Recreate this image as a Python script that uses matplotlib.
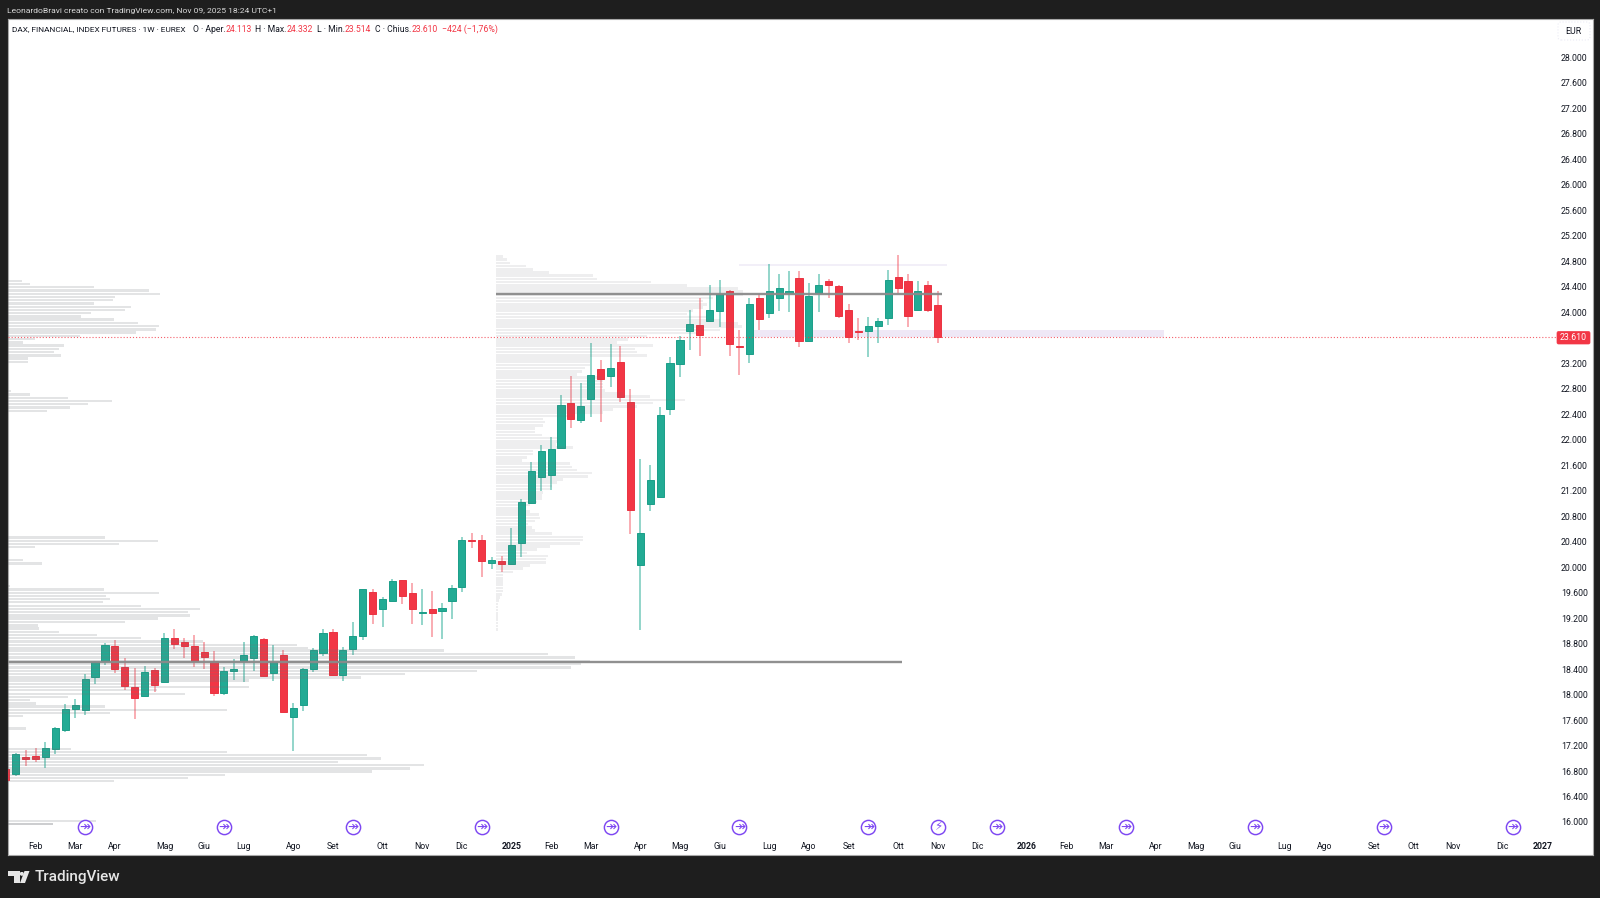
import numpy as np
import matplotlib
matplotlib.use('Agg')
import matplotlib.pyplot as plt
from matplotlib.patches import Polygon, Circle, FancyBboxPatch
from matplotlib.transforms import blended_transform_factory

plt.rcParams['font.family'] = ['Roboto', 'DejaVu Sans']

W, H = 1600, 898
BG = '#1e1e1e'
UP = '#22ab94'
DOWN = '#f23645'
TEXT = '#131722'

opens = [16825, 16746, 17024, 17034, 17013, 17149, 17447, 17767, 17756, 18269, 18525, 18755, 18436, 18112, 17981, 18379,
         18190, 18891, 18823, 18755, 18661, 18525, 18028, 18368, 18530, 18567, 18865, 18337, 18614, 17646, 17840, 18394,
         18646, 18980, 18305, 18708, 18918, 19603, 19341, 19472, 19791, 19587, 19279, 19336, 19315, 19472, 19686, 20419,
         20434, 20063, 20099, 20042, 20387, 21005, 21423, 21444, 21863, 22574, 22307, 22637, 23118, 23008, 23223, 22595,
         20031, 20994, 21109, 22485, 23186, 23704, 23798, 23861, 24018, 24332, 23474, 23343, 24222, 23987, 24222, 24306,
         24541, 23552, 24311, 24494, 24410, 24044, 23704, 23699, 23793, 23908, 24552, 24494, 24029, 24421, 24113]
highs = [16835, 17076, 17123, 17154, 17259, 17489, 17845, 17924, 18326, 18525, 18813, 18850, 18578, 18421, 18442, 18421,
         18970, 19022, 18891, 18928, 18823, 18682, 18436, 18551, 18823, 18939, 18891, 18782, 18693, 17871, 18421, 18729,
         19022, 19033, 18740, 19137, 19661, 19650, 19535, 19807, 19791, 19744, 19661, 19624, 19430, 19723, 20471, 20544,
         20497, 20167, 20183, 20622, 21062, 21643, 21910, 22046, 22710, 23008, 22883, 23516, 23244, 23495, 23469, 22804,
         21700, 21611, 22516, 23301, 23631, 24029, 24217, 24421, 24515, 24348, 23730, 24217, 24280, 24761, 24594, 24656,
         24641, 24458, 24609, 24520, 24421, 24138, 23903, 23934, 23903, 24672, 24892, 24604, 24494, 24499, 24332]
lows = [16657, 16720, 16877, 16945, 16846, 17066, 17416, 17636, 17678, 18159, 18457, 18332, 18070, 17610, 17971, 18039,
        18175, 18714, 18578, 18436, 18405, 17971, 17986, 18222, 18190, 18368, 18274, 18211, 17720, 17113, 17735, 18353,
        18604, 18290, 18211, 18614, 18860, 19101, 19059, 19467, 19415, 19101, 19090, 18902, 18865, 19190, 19608, 20293,
        19843, 19969, 19922, 20042, 20162, 20994, 21193, 21209, 21863, 22182, 22260, 22360, 22276, 22820, 22600, 20528,
        19016, 20879, 21104, 22386, 22982, 23416, 23312, 23845, 23767, 23307, 23024, 23202, 23725, 23903, 24023, 24002,
        23453, 23547, 24002, 24222, 23913, 23511, 23568, 23291, 23511, 23804, 24306, 23777, 24013, 24002, 23514]
closes = [16657, 17066, 16992, 16982, 17165, 17468, 17767, 17835, 18248, 18504, 18782, 18405, 18128, 17939, 18358, 18149,
          18881, 18792, 18755, 18530, 18583, 18028, 18368, 18405, 18614, 18923, 18285, 18515, 17730, 17782, 18405, 18698,
          18960, 18305, 18698, 18912, 19650, 19258, 19493, 19781, 19551, 19336, 19294, 19273, 19357, 19666, 20424, 20403,
          20094, 20105, 20042, 20351, 21025, 21502, 21821, 21852, 22543, 22323, 22532, 23024, 22951, 23129, 22673, 20895,
          20534, 21366, 22396, 23197, 23573, 23819, 23641, 24044, 24280, 23495, 23453, 24123, 23898, 24332, 24384, 24327,
          23542, 24254, 24431, 24421, 23950, 23610, 23694, 23788, 23866, 24510, 24374, 23940, 24332, 24029, 23610]

# volume profile rows, left block and middle block
left_row_price = [24495, 24444, 24393, 24342, 24291, 24240, 24190, 24139, 24088, 24037, 23986, 23935, 23885, 23834, 23783,
                  23732, 23681, 23630, 23580, 23529, 23478, 23427, 23376, 23325, 23275, 23224,
                  22763, 22711, 22659, 22611, 22559, 22507, 22455,
                  20466, 20414, 20367, 20315, 20111, 20058,
                  19703, 19650, 19598, 19551, 19499, 19451, 19394, 19341, 19294, 19242, 19195, 19137, 19085, 19038, 18986,
                  18939, 18886, 18834, 18781, 18734, 18692, 18635, 18582, 18530, 18478, 18426, 18373, 18326, 18269, 18221,
                  18169, 18122, 18070, 18012, 17960, 17913, 17861, 17813, 17761, 17714, 17662, 17468,
                  17149, 17097, 17050, 16998, 16945, 16898, 16841, 16794, 16741, 16694, 16642,
                  16020, 15972, 15972]
left_row_vol = [14, 22, 86, 141, 152, 107, 105, 86, 123, 117, 83, 73, 106, 130, 151,
                148, 128, 72, 27, 15, 56, 51, 46, 53, 20, 20,
                3, 22, 60, 104, 80, 62, 39,
                97, 150, 111, 27, 15, 34,
                2, 96, 151, 98, 102, 95, 133, 192, 180, 182, 150, 117, 30, 31, 51,
                89, 133, 195, 289, 300, 436, 540, 567, 582, 573, 563, 469, 397, 353, 241,
                150, 241, 149, 177, 60, 22, 28, 97, 219, 102, 15, 18,
                63, 219, 359, 373, 330, 416, 402, 364, 217, 180, 106,
                88, 45, 45]
mid_row_price = [24875, 24825, 24775, 24725, 24675, 24625, 24575, 24525, 24475, 24425, 24375, 24325, 24275, 24225, 24175,
                 24125, 24075, 24025, 23975, 23925, 23875, 23825, 23775, 23725, 23675, 23625, 23575, 23525, 23475, 23425,
                 23375, 23325, 23275, 23225, 23175, 23125, 23075, 23025, 22975, 22925, 22875, 22825, 22775, 22725, 22675,
                 22625, 22575, 22525, 22475, 22425, 22375, 22325, 22275, 22225, 22175, 22125, 22075, 22025, 21975, 21925,
                 21875, 21825, 21775, 21725, 21675, 21625, 21575, 21525, 21475, 21425, 21375, 21325, 21275, 21225, 21175,
                 21125, 21075, 21025, 20975, 20925, 20875, 20825, 20775, 20725, 20675, 20625, 20575, 20525, 20475, 20425,
                 20375, 20325, 20275, 20225, 20175, 20125, 20075, 20025, 19975, 19925, 19875, 19825, 19775, 19725, 19675,
                 19625, 19575, 19525, 19475, 19425, 19375, 19325, 19275, 19225, 19175, 19125, 19075, 19025]
mid_row_vol = [7, 11, 14, 30, 37, 53, 97, 101, 155, 191, 242, 247, 247, 217, 207, 211, 207, 197, 191, 211, 224, 242, 246,
               224, 201, 151, 132, 121, 157, 139, 141, 151, 94, 94, 94, 89, 86, 81, 106, 107, 107, 107, 109, 127, 154,
               189, 157, 141, 117, 107, 77, 47, 49, 47, 39, 39, 46, 62, 62, 60, 77, 37, 37, 31, 26, 74, 76, 81, 96, 92,
               67, 61, 56, 54, 47, 46, 46, 41, 34, 27, 34, 43, 44, 39, 32, 36, 39, 56, 87, 87, 84, 54, 41, 31, 52, 50,
               50, 34, 27, 17, 7, 7, 7, 7, 7, 7, 6, 4, 3, 2, 2, 2, 2, 2, 2, 2, 2, 2]
left_poc = 18515
mid_poc = 24290
last_price = 23610
zone_low = 23610
zone_high = 23715
zone_line = 24745

price_ticks = [28000, 27600, 27200, 26800, 26400, 26000, 25600, 25200, 24800, 24400, 24000, 23600, 23200, 22800, 22400,
               22000, 21600, 21200, 20800, 20400, 20000, 19600, 19200, 18800, 18400, 18000, 17600, 17200, 16800, 16400, 16000]
price_labels = ['28.000', '27.600', '27.200', '26.800', '26.400', '26.000', '25.600', '25.200', '24.800', '24.400',
                '24.000', '23.600', '23.200', '22.800', '22.400', '22.000', '21.600', '21.200', '20.800', '20.400',
                '20.000', '19.600', '19.200', '18.800', '18.400', '18.000', '17.600', '17.200', '16.800', '16.400', '16.000']
time_ticks = [3, 7, 11, 16, 20, 24, 29, 33, 38, 42, 46, 51, 55, 59, 64, 68, 72, 77, 81, 85, 90, 94, 98, 103, 107, 111,
              116, 120, 124, 129, 133, 138, 142, 146, 151, 155]
time_labels = ['Feb', 'Mar', 'Apr', 'Mag', 'Giu', 'Lug', 'Ago', 'Set', 'Ott', 'Nov', 'Dic', '2025', 'Feb', 'Mar', 'Apr',
               'Mag', 'Giu', 'Lug', 'Ago', 'Set', 'Ott', 'Nov', 'Dic', '2026', 'Feb', 'Mar', 'Apr', 'Mag', 'Giu', 'Lug',
               'Ago', 'Set', 'Ott', 'Nov', 'Dic', '2027']
event_weeks = [8, 22, 35, 48, 61, 74, 87, 100, 113, 126, 139, 152]
flash_weeks = [94]


def fx(px):
    return px / W


def fy(py):
    return 1 - py / H


fig = plt.figure(figsize=(W / 100, H / 100), dpi=100, facecolor=BG)
ax = fig.add_axes([fx(7.5), fy(855), (1592.5 - 7.5) / W, (855 - 19) / H], facecolor='white')
ax.set_xlim(0.171, 160.04)
ax.set_ylim(15482, 28604)
for s in ax.spines.values():
    s.set_color('#a8a8a8')
    s.set_linewidth(0.8)

ax.yaxis.tick_right()
ax.set_yticks(price_ticks, price_labels)
ax.tick_params(axis='y', length=0, pad=-22.7, labelsize=6.3, labelcolor=TEXT)
for lab in ax.get_yticklabels():
    lab.set_ha('left')
ax.set_xticks(time_ticks, time_labels)
ax.tick_params(axis='x', length=0, pad=-9.6, labelsize=6.3, labelcolor=TEXT)
for lab in ax.get_xticklabels():
    if lab.get_text().startswith('20'):
        lab.set_fontweight('bold')

idx = np.arange(len(opens))
o = np.array(opens)
h = np.array(highs)
l = np.array(lows)
c = np.array(closes)
up = c >= o

# zone behind candles
ax.fill_between([75.3, 116.8], zone_low, zone_high, color='#efe8f6', lw=0, zorder=1)
ax.hlines(zone_line, 74, 94.9, color='#efebf7', lw=1.1, zorder=1)

ax.vlines(idx[up], l[up], h[up], color=UP, alpha=0.6, lw=1.15, zorder=2)
ax.vlines(idx[~up], l[~up], h[~up], color=DOWN, alpha=0.5, lw=1.15, zorder=2)
ax.bar(idx[up], (c - o)[up], bottom=o[up], width=0.72, color=UP, edgecolor='#1c9e88', lw=0.7, zorder=3)
ax.bar(idx[~up], (o - c)[~up], bottom=c[~up], width=0.72, color=DOWN, edgecolor='#ea3342', lw=0.7, zorder=3)

# profiles go over the candles, rows are read in pixels of width
vol_to_x = 1 / 9.914
ax.barh(left_row_price, np.array(left_row_vol) * vol_to_x, left=0.171, height=38, color='#6f7278', alpha=0.19,
        lw=0, zorder=4)
ax.barh(mid_row_price, np.array(mid_row_vol) * vol_to_x, left=49.45, height=40, color='#6f7278', alpha=0.115,
        lw=0, zorder=4)
ax.hlines(left_poc, 0.171, 90.4, color='#8a8a8a', lw=1.7, alpha=0.95, zorder=5)
ax.hlines(mid_poc, 49.45, 94.4, color='#8a8a8a', lw=1.7, alpha=0.95, zorder=5)

ax.axhline(last_price, xmax=0.982, color=DOWN, lw=0.8, ls=(0, (1, 1.8)), alpha=0.8, zorder=5)

# event icons sit at fixed height on the time axis
icons = blended_transform_factory(ax.transData, ax.transAxes)
icon_y = (855 - 827) / (855 - 19)
ax.scatter(event_weeks + flash_weeks, [icon_y] * 13, s=105, facecolor='white', edgecolor='#7e48f2', lw=1.05,
           transform=icons, zorder=6, clip_on=False)
for w in event_weeks:
    ax.text(w, icon_y, '\u21a0', color='#7e48f2', fontsize=9.5, ha='center', va='center', transform=icons, zorder=7,
            family=['DejaVu Sans'])
for w in flash_weeks:
    ax.text(w, icon_y, '\u26a1', color='#7e48f2', fontsize=8.5, ha='center', va='center', transform=icons, zorder=7,
            family=['DejaVu Sans'])

# price tag and currency box
fig.add_artist(FancyBboxPatch((fx(1557), fy(344)), 33 / W, 12.5 / H, boxstyle='round,pad=0,rounding_size=0.001',
                              transform=fig.transFigure, fc=DOWN, ec=DOWN, lw=0.5, mutation_aspect=1.8))
fig.text(fx(1573.5), fy(337.6), '23.610', color='white', fontsize=6.3, ha='center', va='center')
fig.add_artist(FancyBboxPatch((fx(1558), fy(40)), 32 / W, 18 / H, boxstyle='round,pad=0,rounding_size=0.002',
                              transform=fig.transFigure, fc='white', ec='#ebebf5', lw=0.8, ls=':', mutation_aspect=1.8))
fig.text(fx(1573.5), fy(31), 'EUR', color=TEXT, fontsize=6.3, ha='center', va='center')

# header
fig.text(fx(7), fy(10.5), 'LeonardoBravi creato con TradingView.com, Nov 09, 2025 18:24 UTC+1', color='#d8d8d8',
         fontsize=6.1, va='center')
legend_bits = [(12.3, 'DAX, FINANCIAL, INDEX FUTURES \u00b7 1W \u00b7 EUREX', TEXT, 5.95),
               (192.7, 'O \u00b7 Aper.', TEXT, 6.2), (225.3, '24.113', DOWN, 6.2),
               (255.3, 'H \u00b7 Max.', TEXT, 6.2), (286.7, '24.332', DOWN, 6.2),
               (316.7, 'L \u00b7 Min.', TEXT, 6.2), (345, '23.514', DOWN, 6.2),
               (375, 'C \u00b7 Chius.', TEXT, 6.2), (411.7, '23.610', DOWN, 6.2),
               (441.7, '\u2212424 (\u22121,76%)', DOWN, 6.3)]
for x, s, col, size in legend_bits:
    fig.text(fx(x), fy(29.3), s, color=col, fontsize=size, va='center', zorder=10)

# footer logo
logo = '#e6e6e6'
fig.add_artist(Polygon([(fx(8), fy(871)), (fx(19.5), fy(871)), (fx(19.5), fy(883)), (fx(14), fy(883)), (fx(14), fy(876)),
                        (fx(8), fy(876))], closed=True, fc=logo, ec='none', transform=fig.transFigure))
fig.add_artist(Polygon([(fx(24.5), fy(871)), (fx(29.5), fy(871)), (fx(25), fy(883)), (fx(20), fy(883))], closed=True,
                       fc=logo, ec='none', transform=fig.transFigure))
ax_logo = fig.add_axes([fx(19.8), fy(875.8), 4 / W, 4 / H], facecolor='none')
ax_logo.set_axis_off()
ax_logo.add_patch(Circle((0.5, 0.5), 0.5, fc=logo, ec='none', transform=ax_logo.transAxes))
fig.text(fx(35), fy(876.7), 'TradingView', color=logo, fontsize=11, va='center', family=['Roboto'],
         fontweight='medium')

fig.savefig('out.png', dpi=100, facecolor=BG)
